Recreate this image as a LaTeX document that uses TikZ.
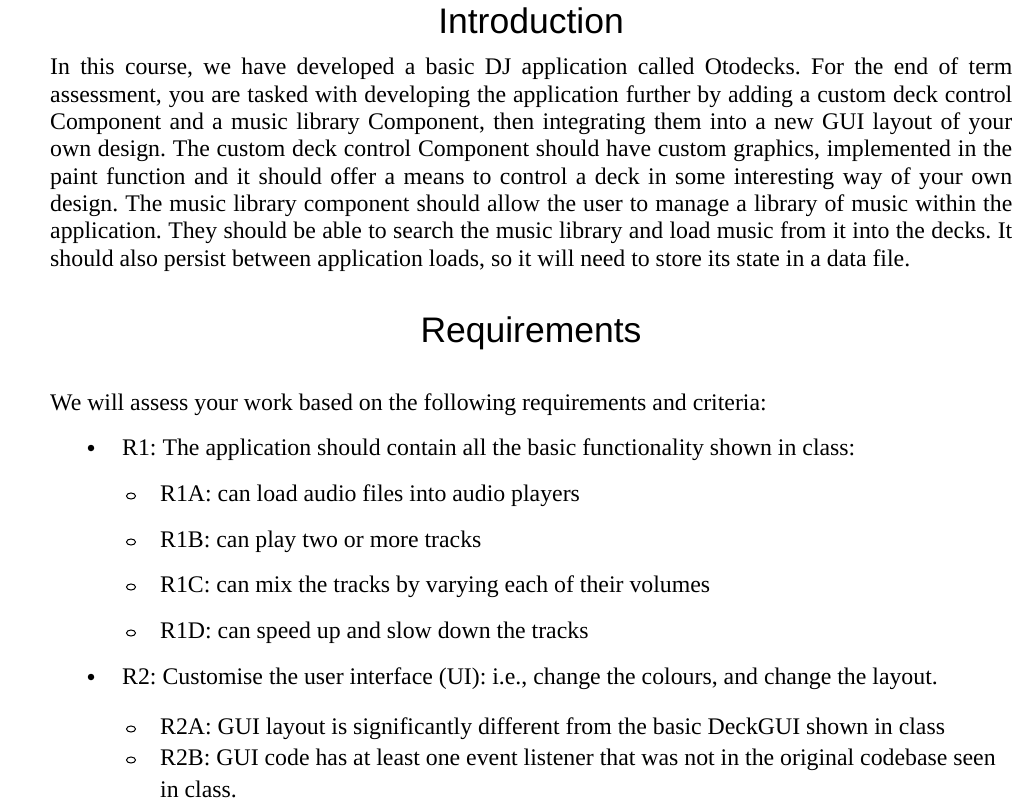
\documentclass[tikz,border=0pt]{standalone}
\usepackage{fontspec}
\usetikzlibrary{shapes.geometric}
\setmainfont{Liberation Serif}
\newfontfamily\headfont{Liberation Sans}
\frenchspacing
\begin{document}
\begin{tikzpicture}[x=1pt,y=-1pt,
  body/.style={anchor=base west,inner sep=0pt,font=\fontsize{23.8}{27.3}\selectfont},
  head/.style={anchor=base,inner sep=0pt,font=\headfont\fontsize{35.5}{40}\selectfont},
  dot/.style={circle,fill=black,inner sep=0pt,minimum size=6.5pt},
  ring/.style={ellipse,draw=black,line width=1pt,inner sep=0pt,minimum width=9pt,minimum height=6pt}]
\useasboundingbox (0,0) rectangle (1027,808);
\node[head] (h1) at (531,34) {Introduction};
\node[anchor=north west,inner sep=0pt,text width=962pt,align=justify,font=\fontsize{23.8}{27.3}\selectfont] (p) at (50,58)
{\frenchspacing In this course, we have developed a basic DJ application called Otodecks. For the end of term\linebreak
assessment, you are tasked with developing the application further by adding a custom deck control\linebreak
Component and a music library Component, then integrating them into a new GUI layout of your\linebreak
own design. The custom deck control Component should have custom graphics, implemented in the\linebreak
paint function and it should offer a means to control a deck in some interesting way of your own\linebreak
design. The music library component should allow the user to manage a library of music within the\linebreak
application. They should be able to search the music library and load music from it into the decks. It\linebreak
should also persist between application loads, so it will need to store its state in a data file.};
\node[head] (h2) at (531,342) {Requirements};
\node[body] (t0) at (50,410) {We will assess your work based on the following requirements and criteria:};
\node[dot] (b1) at (91,448) {};
\node[body] (t1) at (122,455) {R1: The application should contain all the basic functionality shown in class:};
\node[ring] (c1) at (131,496) {};
\node[body] (t2) at (160,501) {R1A: can load audio files into audio players};
\node[ring] (c2) at (131,542) {};
\node[body] (t3) at (160,547) {R1B: can play two or more tracks};
\node[ring] (c3) at (131,587) {};
\node[body] (t4) at (160,592) {R1C: can mix the tracks by varying each of their volumes};
\node[ring] (c4) at (131,633) {};
\node[body] (t5) at (160,638) {R1D: can speed up and slow down the tracks};
\node[dot] (b2) at (91,677) {};
\node[body] (t6) at (122,684) {R2: Customise the user interface (UI): i.e., change the colours, and change the layout.};
\node[ring] (c5) at (131,729) {};
\node[body] (t7) at (160,734) {R2A: GUI layout is significantly different from the basic DeckGUI shown in class};
\node[ring] (c6) at (131,760) {};
\node[body] (t8) at (160,765) {R2B: GUI code has at least one event listener that was not in the original codebase seen};
\node[body] (t9) at (160,797) {in class.};
\end{tikzpicture}
\end{document}
